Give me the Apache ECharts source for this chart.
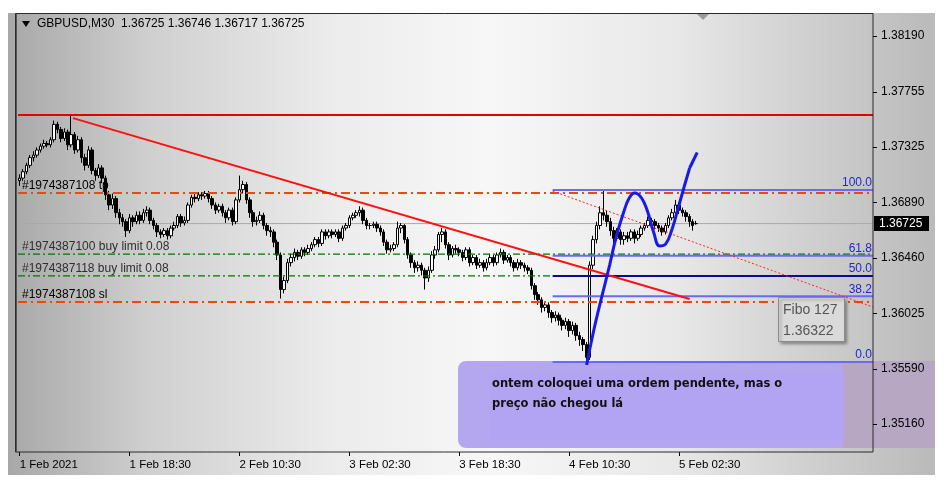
<!DOCTYPE html>
<html><head><meta charset="utf-8">
<script src="https://cdn.jsdelivr.net/npm/echarts@6/dist/echarts.min.js"></script>
<style>
html,body{margin:0;padding:0;background:#fff;}
#wrap{position:relative;width:950px;height:488px;overflow:hidden;background:#fff;}
#bg{position:absolute;left:8px;top:13px;width:927px;height:462px;
background:linear-gradient(90deg,#a8a8a8 0%,#cfcfcf 15%,#ececec 35%,#f7f7f7 52%,#e8e8e8 72%,#cdcdcd 88%,#bababa 100%);}
#c{position:absolute;left:0;top:0;width:950px;height:488px;}
</style>
</head><body>
<div id="wrap"><div id="bg"></div><div id="c"></div></div>
<script>
// ---------------- data ----------------
const symbolName = 'GBPUSD,M30';
const timeLabels = ['1 Feb 2021','1 Feb 18:30','2 Feb 10:30','3 Feb 02:30','3 Feb 18:30','4 Feb 10:30','5 Feb 02:30'];
const barsPerLabel = 32;
const slotCount = 249;
const priceTicks = [1.38190,1.37755,1.37325,1.36890,1.36460,1.36025,1.35590,1.35160];
const priceMin = 1.34941, priceMax = 1.38362;

// [open, close, low, high]
const barsFeb1 = [
[1.3706,1.3708,1.3702,1.3711],[1.3708,1.3713,1.3706,1.3715],[1.3713,1.3718,1.3711,1.3720],[1.3718,1.3724,1.3716,1.3726],
[1.3724,1.3726,1.3721,1.3729],[1.3726,1.3730,1.3724,1.3732],[1.3730,1.3733,1.3728,1.3735],[1.3733,1.3735,1.3731,1.3738],
[1.3735,1.3734,1.3732,1.3737],[1.3734,1.3738,1.3732,1.3740],[1.3738,1.3750,1.3736,1.3753],[1.3750,1.3746,1.3743,1.3752],
[1.3746,1.3739,1.3736,1.3748],[1.3739,1.3744,1.3737,1.3747],[1.3744,1.3734,1.3730,1.3746],[1.3734,1.3742,1.3732,1.3758],
[1.3742,1.3730,1.3727,1.3744],[1.3730,1.3738,1.3728,1.3741],[1.3738,1.3724,1.3720,1.3740],[1.3724,1.3718,1.3714,1.3727],
[1.3718,1.3730,1.3716,1.3733],[1.3730,1.3714,1.3711,1.3732],[1.3714,1.3710,1.3706,1.3716],[1.3710,1.3716,1.3708,1.3719],
[1.3716,1.3708,1.3704,1.3718],[1.3708,1.3695,1.3691,1.3710],[1.3695,1.3687,1.3683,1.3698],[1.3687,1.3692,1.3684,1.3696],
[1.3692,1.3681,1.3677,1.3694],[1.3681,1.3677,1.3672,1.3684],[1.3677,1.3674,1.3670,1.3680],[1.3674,1.3667,1.3662,1.3676],
[1.3667,1.3677,1.3665,1.3680],[1.3677,1.3674,1.3670,1.3679],[1.3674,1.3679,1.3672,1.3682],[1.3679,1.3675,1.3672,1.3682],
[1.3675,1.3681,1.3673,1.3684],[1.3681,1.3683,1.3678,1.3686],[1.3683,1.3675,1.3672,1.3685],[1.3675,1.3671,1.3668,1.3677],
[1.3671,1.3666,1.3662,1.3673],[1.3666,1.3664,1.3661,1.3668],[1.3664,1.3667,1.3662,1.3669]
];
const barsFeb2 = [
[1.3667,1.3663,1.3660,1.3669],[1.3663,1.3669,1.3661,1.3671],[1.3669,1.3671,1.3667,1.3674],[1.3671,1.3678,1.3669,1.3680],
[1.3678,1.3673,1.3670,1.3680],[1.3673,1.3675,1.3671,1.3678],[1.3675,1.3687,1.3673,1.3689],[1.3687,1.3693,1.3685,1.3695],
[1.3693,1.3692,1.3689,1.3696],[1.3692,1.3695,1.3690,1.3697],[1.3695,1.3694,1.3691,1.3697],[1.3694,1.3696,1.3692,1.3698],
[1.3696,1.3692,1.3689,1.3698],[1.3692,1.3687,1.3684,1.3694],[1.3687,1.3683,1.3680,1.3689],[1.3683,1.3686,1.3681,1.3688],
[1.3686,1.3681,1.3678,1.3688],[1.3681,1.3677,1.3673,1.3683],[1.3677,1.3683,1.3675,1.3685],[1.3683,1.3674,1.3671,1.3685],
[1.3674,1.3691,1.3672,1.3693],[1.3691,1.3699,1.3689,1.3710],[1.3699,1.3703,1.3696,1.3706],[1.3703,1.3691,1.3688,1.3705],
[1.3691,1.3681,1.3677,1.3693],[1.3681,1.3674,1.3670,1.3683],[1.3674,1.3675,1.3671,1.3678],[1.3675,1.3679,1.3673,1.3682],
[1.3679,1.3671,1.3668,1.3681],[1.3671,1.3667,1.3663,1.3673],[1.3667,1.3666,1.3662,1.3670],[1.3666,1.3658,1.3654,1.3668],
[1.3658,1.3648,1.3644,1.3660],[1.3648,1.3621,1.3614,1.3650],[1.3621,1.3628,1.3618,1.3631],[1.3628,1.3642,1.3626,1.3645],
[1.3642,1.3646,1.3639,1.3649],[1.3646,1.3650,1.3643,1.3653],[1.3650,1.3647,1.3644,1.3652],[1.3647,1.3652,1.3645,1.3654],
[1.3652,1.3650,1.3647,1.3654],[1.3650,1.3653,1.3648,1.3656],[1.3653,1.3656,1.3651,1.3658],[1.3656,1.3660,1.3654,1.3662],
[1.3660,1.3657,1.3654,1.3662],[1.3657,1.3666,1.3655,1.3668],[1.3666,1.3663,1.3660,1.3668],[1.3663,1.3666,1.3661,1.3668]
];
const barsFeb3 = [
[1.3666,1.3664,1.3661,1.3668],[1.3664,1.3666,1.3662,1.3668],[1.3666,1.3661,1.3658,1.3668],[1.3661,1.3669,1.3659,1.3671],
[1.3669,1.3671,1.3667,1.3673],[1.3671,1.3677,1.3669,1.3679],[1.3677,1.3679,1.3675,1.3681],[1.3679,1.3681,1.3677,1.3683],
[1.3681,1.3683,1.3678,1.3686],[1.3683,1.3675,1.3672,1.3685],[1.3675,1.3671,1.3668,1.3677],[1.3671,1.3671,1.3668,1.3673],
[1.3671,1.3672,1.3669,1.3674],[1.3672,1.3669,1.3666,1.3674],[1.3669,1.3666,1.3663,1.3671],[1.3666,1.3658,1.3655,1.3668],
[1.3658,1.3652,1.3649,1.3660],[1.3652,1.3653,1.3650,1.3656],[1.3653,1.3656,1.3651,1.3658],[1.3656,1.3669,1.3654,1.3674],
[1.3669,1.3671,1.3665,1.3673],[1.3671,1.3660,1.3657,1.3672],[1.3660,1.3648,1.3645,1.3662],[1.3648,1.3642,1.3638,1.3650],
[1.3642,1.3638,1.3634,1.3644],[1.3638,1.3640,1.3635,1.3643],[1.3640,1.3636,1.3632,1.3642],[1.3636,1.3630,1.3621,1.3638],
[1.3630,1.3636,1.3627,1.3639],[1.3636,1.3648,1.3634,1.3651],[1.3648,1.3652,1.3645,1.3655],[1.3652,1.3664,1.3650,1.3666],
[1.3664,1.3666,1.3658,1.3669],[1.3666,1.3656,1.3653,1.3668],[1.3656,1.3648,1.3644,1.3658],[1.3648,1.3653,1.3646,1.3655],
[1.3653,1.3652,1.3649,1.3656],[1.3652,1.3650,1.3647,1.3654],[1.3650,1.3646,1.3643,1.3652],[1.3646,1.3652,1.3644,1.3654],
[1.3652,1.3642,1.3639,1.3654],[1.3642,1.3646,1.3640,1.3648],[1.3646,1.3640,1.3637,1.3648],[1.3640,1.3642,1.3638,1.3645],
[1.3642,1.3638,1.3635,1.3644],[1.3638,1.3642,1.3636,1.3645],[1.3642,1.3646,1.3640,1.3649],[1.3646,1.3642,1.3639,1.3648]
];
const barsFeb4 = [
[1.3642,1.3648,1.3640,1.3650],[1.3648,1.3650,1.3646,1.3653],[1.3650,1.3644,1.3641,1.3652],[1.3644,1.3646,1.3642,1.3648],
[1.3646,1.3642,1.3639,1.3648],[1.3642,1.3638,1.3635,1.3644],[1.3638,1.3642,1.3636,1.3645],[1.3642,1.3640,1.3637,1.3644],
[1.3640,1.3638,1.3635,1.3642],[1.3638,1.3636,1.3633,1.3640],[1.3636,1.3624,1.3621,1.3638],[1.3624,1.3617,1.3613,1.3626],
[1.3617,1.3613,1.3609,1.3619],[1.3613,1.3607,1.3603,1.3615],[1.3607,1.3609,1.3604,1.3612],[1.3609,1.3603,1.3599,1.3611],
[1.3603,1.3599,1.3595,1.3605],[1.3599,1.3601,1.3596,1.3604],[1.3601,1.3597,1.3593,1.3603],[1.3597,1.3593,1.3589,1.3599],
[1.3593,1.3596,1.3590,1.3599],[1.3596,1.3589,1.3584,1.3598],[1.3589,1.3593,1.3586,1.3596],[1.3593,1.3585,1.3581,1.3595],
[1.3585,1.3582,1.3577,1.3588],[1.3582,1.3578,1.3573,1.3584],[1.3578,1.3568,1.35644,1.3580],[1.3568,1.3640,1.3566,1.3643],
[1.3640,1.3660,1.3637,1.3663],[1.3660,1.3671,1.3657,1.3674],[1.3671,1.3681,1.3668,1.3686],[1.3681,1.3679,1.3675,1.36987],
[1.3679,1.3674,1.3670,1.3683],[1.3674,1.3667,1.3663,1.3677],[1.3667,1.3661,1.3657,1.3670],[1.3661,1.3666,1.3659,1.3669],
[1.3666,1.3660,1.3656,1.3668],[1.3660,1.3663,1.3656,1.3666],[1.3663,1.3661,1.3658,1.3666],[1.3661,1.3666,1.3659,1.3668],
[1.3666,1.3661,1.3657,1.3668],[1.3661,1.3664,1.3659,1.3667],[1.3664,1.3669,1.3662,1.3671],[1.3669,1.3671,1.3667,1.3673],
[1.3671,1.3675,1.3669,1.3678],[1.3675,1.3674,1.3671,1.3677],[1.3674,1.3671,1.3668,1.3676],[1.3671,1.3669,1.3666,1.3673]
];
const barsFeb5 = [
[1.3669,1.3666,1.3663,1.3671],[1.3666,1.3671,1.3664,1.3673],[1.3671,1.3677,1.3669,1.3679],[1.3677,1.3681,1.3675,1.3684],
[1.3681,1.3687,1.3679,1.3691],[1.3687,1.3683,1.3680,1.3689],[1.3683,1.3681,1.3678,1.3685],[1.3681,1.3678,1.3674,1.3683],
[1.3678,1.3674,1.3670,1.3680],[1.3674,1.3671,1.3667,1.3676],[1.36725,1.36725,1.36717,1.36746]
];

const resistanceLevel = 1.37573;
const currentPrice = 1.36725;
const orderLevels = [1.36964, 1.36487, 1.36316, 1.36112];
const orderLabels = ['#1974387108 tp', '#1974387100 buy limit 0.08', '#1974387118 buy limit 0.08', '#1974387108 sl'];
const orderKinds = ['exit', 'pending', 'pending', 'exit'];

const fiboLevels = [1.36987, 1.36474, 1.36316, 1.36157, 1.35644];
const fiboLabels = ['100.0', '61.8', '50.0', '38.2', '0.0'];
const fiboSpan = [155.2, 248.5];
const fiboTipName = 'Fibo 127';
const fiboTipPrice = '1.36322';

const trendLine = [[15.5, 1.37549], [195.1, 1.36136]];
const dottedTrend = [[155.2, 1.36979], [248.5, 1.36073]];
const handArrow = [[165.1,1.35620],[167.2,1.35894],[169.5,1.36152],[171.8,1.36401],[173.7,1.36620],[175.9,1.36815],
  [177.5,1.36925],[179.1,1.36964],[181.1,1.36925],[182.9,1.36815],[184.6,1.36659],[186.4,1.36550],[188.1,1.36565],
  [189.9,1.36675],[191.6,1.36831],[193.4,1.37003],[195.1,1.37159]];
const handArrowHead = [[195.1,1.37159],[197.3,1.37280]];

const noteLines = ['ontem coloquei uma ordem pendente, mas o', 'preço não chegou lá'];

// ---------------- chart ----------------
const bars = [].concat(barsFeb1, barsFeb2, barsFeb3, barsFeb4, barsFeb5);
const slots = Array.from({length: slotCount}, (_, i) => String(i));
const showTick = (i) => i % barsPerLabel === 0 && (i / barsPerLabel) < timeLabels.length;
const fullSpan = [-0.5, slotCount - 0.5];

const chart = echarts.init(document.getElementById('c'), null, {renderer: 'canvas'});
const LF = 'Liberation Sans';

function hLine(v, style, z) {
  return {type: 'line', xAxisIndex: 1, yAxisIndex: 0, symbol: 'none', silent: true, z: z,
    data: [[fullSpan[0], v], [fullSpan[1], v]], lineStyle: style};
}

const series = [];
series.push(hLine(currentPrice, {color: '#a9a9a9', width: 1}, 1));
series.push({
  type: 'candlestick', name: 'GBPUSD', xAxisIndex: 0, yAxisIndex: 0,
  data: bars, barWidth: 3, z: 3,
  itemStyle: {color: '#ffffff', color0: '#000000', borderColor: '#000000', borderColor0: '#000000', borderColorDoji: '#000000', borderWidth: 1}
});
series.push(hLine(resistanceLevel, {color: '#e00000', width: 2}, 4));
orderLevels.forEach((v, k) => {
  series.push(orderKinds[k] === 'exit'
    ? hLine(v, {color: '#f0460f', width: 2, type: [9, 4, 2, 4]}, 4)
    : hLine(v, {color: '#007400', width: 1.3, type: [7, 3, 2, 3]}, 4));
});
fiboLevels.forEach((v, k) => {
  series.push({
    type: 'line', xAxisIndex: 1, yAxisIndex: 0, symbol: 'none', silent: true, z: 5,
    data: [[fiboSpan[0], v], [fiboSpan[1], v]],
    lineStyle: {color: k === 2 ? '#0a0a96' : '#6a6af6', width: 2}
  });
});
series.push({
  type: 'line', xAxisIndex: 1, yAxisIndex: 0, symbol: 'none', silent: true, z: 6,
  data: trendLine, lineStyle: {color: '#ff1010', width: 2}
});
series.push({
  type: 'line', xAxisIndex: 1, yAxisIndex: 0, symbol: 'none', silent: true, z: 6,
  data: dottedTrend, lineStyle: {color: '#ff2020', width: 1, type: [2, 2]}
});
series.push({
  type: 'line', xAxisIndex: 1, yAxisIndex: 0, symbol: 'none', silent: true, z: 7, smooth: 0.45,
  data: handArrow, lineStyle: {color: '#1a1ae8', width: 3},
  markLine: {silent: true, symbol: ['none', 'arrow'], symbolSize: [1, 13], label: {show: false}, animation: false,
    lineStyle: {color: '#1a1ae8', width: 3, type: 'solid'},
    data: [[{coord: handArrowHead[0]}, {coord: handArrowHead[1]}]]}
});

const option = {
  animation: false,
  backgroundColor: 'transparent',
  grid: {left: 18, top: 14, width: 855, height: 438, containLabel: false},
  xAxis: [{
    type: 'category', data: slots, boundaryGap: true, gridIndex: 0,
    axisLine: {show: false, onZero: false}, splitLine: {show: false},
    axisTick: {show: true, interval: showTick, alignWithLabel: true, length: 4, lineStyle: {color: '#000'}},
    axisLabel: {interval: showTick, align: 'left', margin: 7, color: '#000', fontFamily: LF, fontSize: 11.5,
      formatter: (v, i) => timeLabels[i / barsPerLabel] || ''}
  }, {
    type: 'value', min: fullSpan[0], max: fullSpan[1], show: false, gridIndex: 0,
    axisLine: {show: false, onZero: false}, axisTick: {show: false}, axisLabel: {show: false}, splitLine: {show: false}
  }],
  yAxis: [{
    type: 'value', position: 'right', min: priceMin, max: priceMax, scale: true,
    axisLine: {show: false, onZero: false}, splitLine: {show: false}, axisTick: {show: false},
    axisLabel: {customValues: priceTicks, margin: 8, color: '#000', fontFamily: LF, fontSize: 12,
      formatter: (v) => v.toFixed(5)}
  }],
  series: series
};
chart.setOption(option);

// ---------------- overlay text / shapes positioned via the scales ----------------
const py = (v) => chart.convertToPixel({yAxisIndex: 0}, v);
const last = bars[bars.length - 1];
const g = [];
// frame
g.push({type: 'rect', z: 50, silent: true, shape: {x: 15.5, y: 13.5, width: 857.5, height: 438.5}, style: {fill: 'none', stroke: '#2b2b2b', lineWidth: 1}});
g.push({type: 'line', z: 50, silent: true, shape: {x1: 16.5, y1: 13.5, x2: 16.5, y2: 452}, style: {stroke: '#555', lineWidth: 1}});
// price axis ticks
priceTicks.forEach(v => {
  const y = Math.round(py(v)) + 0.5;
  g.push({type: 'line', z: 50, silent: true, shape: {x1: 873, y1: y, x2: 877, y2: y}, style: {stroke: '#000', lineWidth: 1}});
});
// header
g.push({type: 'polygon', z: 50, shape: {points: [[22, 21], [30, 21], [26, 27]]}, style: {fill: '#000'}});
g.push({type: 'text', z: 50, x: 37, y: 24, style: {text: symbolName + '  ' + [last[0], last[3], last[2], last[1]].map(v => v.toFixed(5)).join(' '),
  fill: '#000', font: '12px "' + LF + '"', verticalAlign: 'middle'}});
g.push({type: 'polygon', z: 50, shape: {points: [[697, 14], [709, 14], [703, 20]]}, style: {fill: '#9a9a9a'}});
// annotation note box (under series)
g.push({type: 'rect', z: 0, silent: true, shape: {x: 458, y: 361, width: 385, height: 87, r: [8, 0, 0, 8]}, style: {fill: '#b5a6f0'}});
g.push({type: 'rect', z: 0, silent: true, shape: {x: 843, y: 361, width: 92, height: 87}, style: {fill: '#b8a7c3'}});
g.push({type: 'rect', z: 0, silent: true, shape: {x: 490, y: 373, width: 354, height: 68}, style: {fill: '#b3a3f3'}});
noteLines.forEach((t, k) => g.push({type: 'text', z: 0, x: 492, y: 384 + k * 20,
  style: {text: t, fill: '#111', font: 'bold 11.5px "DejaVu Sans"', verticalAlign: 'middle'}}));
// order labels
orderLevels.forEach((v, k) => {
  g.push({type: 'text', z: 40, x: 22, y: py(v) - 1, style: {text: orderLabels[k],
    fill: orderKinds[k] === 'exit' ? '#000' : '#2e2e2e', font: '12px "' + LF + '"', verticalAlign: 'bottom'}});
});
// fibo labels
fiboLevels.forEach((v, k) => {
  g.push({type: 'text', z: 40, x: 872, y: py(v) - 1, style: {text: fiboLabels[k], fill: '#2424d6',
    font: '12px "' + LF + '"', align: 'right', verticalAlign: 'bottom'}});
});
// fibo tooltip
g.push({type: 'rect', z: 60, shape: {x: 778.5, y: 297.5, width: 66, height: 44}, style: {fill: '#dadada', stroke: '#8c8c8c', lineWidth: 1,
  shadowBlur: 3, shadowColor: 'rgba(0,0,0,0.35)', shadowOffsetX: 2, shadowOffsetY: 2}});
g.push({type: 'text', z: 61, x: 783, y: 310, style: {text: fiboTipName, fill: '#555', font: '14px "' + LF + '"', verticalAlign: 'middle'}});
g.push({type: 'text', z: 61, x: 783, y: 331, style: {text: fiboTipPrice, fill: '#555', font: '14px "' + LF + '"', verticalAlign: 'middle'}});
// current price tag
const cy = py(currentPrice);
g.push({type: 'rect', z: 60, shape: {x: 874, y: cy - 7.5, width: 55, height: 15}, style: {fill: '#000'}});
g.push({type: 'text', z: 61, x: 879, y: cy, style: {text: currentPrice.toFixed(5), fill: '#fff', font: '12px "' + LF + '"', verticalAlign: 'middle'}});

chart.setOption({graphic: {elements: g}});
</script>
</body></html>
